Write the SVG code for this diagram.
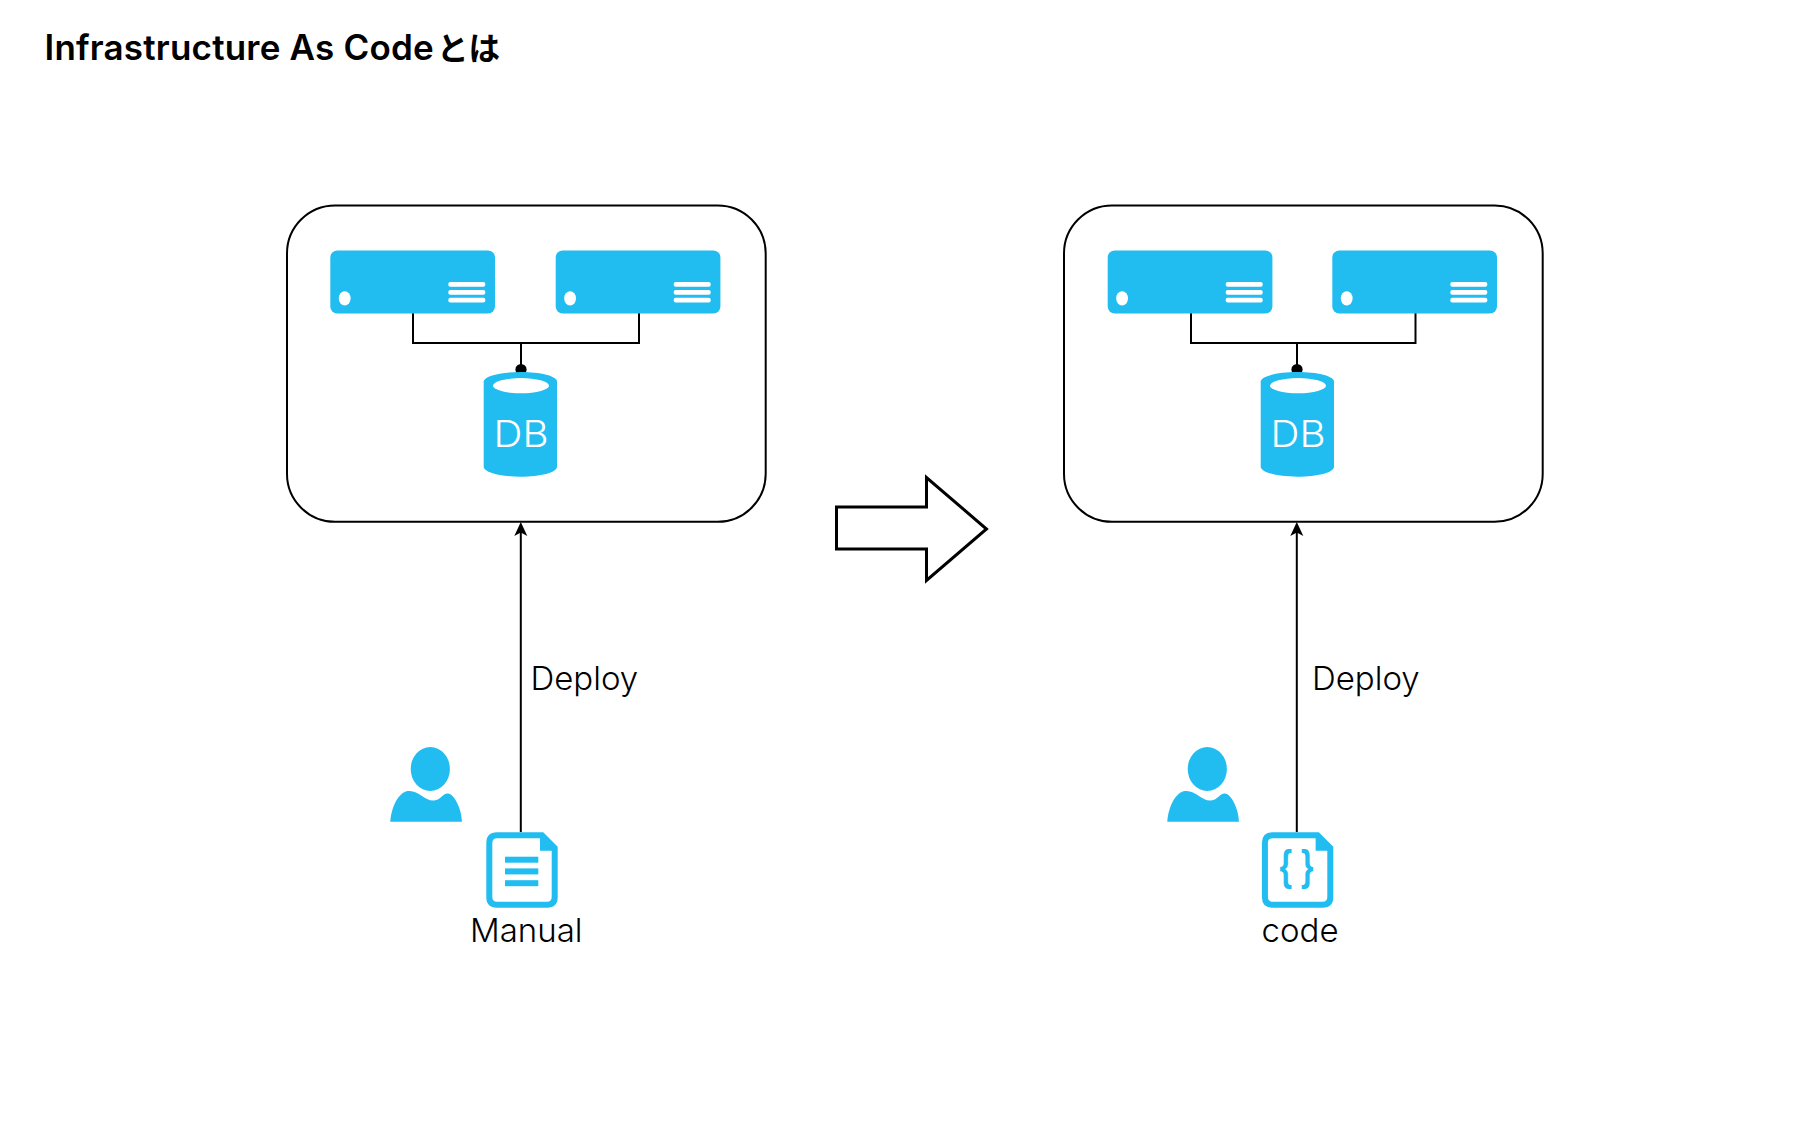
<svg xmlns="http://www.w3.org/2000/svg" width="1796" height="1122" viewBox="0 0 1796 1122">
<style>
.c{fill:#21bdf1}
.w{fill:#fff}
.line{fill:none;stroke:#000;stroke-width:2}
.t{font-family:Inter,"Noto Sans CJK JP",sans-serif;font-weight:300;font-size:33px;fill:#000}
.db{font-family:Inter,"Liberation Sans",sans-serif;font-weight:300;font-size:37px;fill:#fff}
</style>
<defs>
<marker id="arrow" markerUnits="userSpaceOnUse" markerWidth="15" markerHeight="15" refX="8" refY="7" orient="auto"><path d="M14 7L0 .5 3.5 7 0 13.5z" fill="#000"/></marker>
<marker id="oval" markerUnits="userSpaceOnUse" markerWidth="14" markerHeight="14" refX="7" refY="7" orient="auto"><circle cx="7" cy="7" r="5.6" fill="#000"/></marker>
<g id="server"><rect class="c" x="330.3" y="250.5" width="164.7" height="63" rx="7"/><ellipse class="w" cx="344.7" cy="298.4" rx="5.9" ry="7.2"/><rect class="w" x="448.3" y="282" width="37" height="4.7" rx="2"/><rect class="w" x="448.3" y="290" width="37" height="4.7" rx="2"/><rect class="w" x="448.3" y="297.8" width="37" height="4.7" rx="2"/></g>
<g id="person"><ellipse class="c" cx="430.3" cy="769" rx="19.6" ry="22"/><path class="c" d="M390.3 821.7C391.5 806 399 792 408 791C419 790 424 801 434 800.5C441 800 443 793 448 793.5C454 794 461.5 808 462 821.7z"/></g>
<path id="doc" d="M497 835.3H542L554.7 848V897Q554.7 904.7 547 904.7H497Q489.3 904.7 489.3 897V843Q489.3 835.3 497 835.3z" fill="#fff" stroke="#21bdf1" stroke-width="6"/>
<path id="fold" class="c" d="M540 834L557 850.7H540z"/>
</defs>
<g id="connectors">
<path class="line" d="M413 313V343H639V313"/>
<path class="line" d="M521 343V369.5" marker-end="url(#oval)"/>
<path class="line" d="M1191 313V343H1415.5V313"/>
<path class="line" d="M1297 343V369.5" marker-end="url(#oval)"/>
<path class="line" d="M520.8 832V528" marker-end="url(#arrow)"/>
<path class="line" d="M1296.8 832V528" marker-end="url(#arrow)"/>
</g>
<text id="title" x="44.5" y="60" font-family="Inter,'Noto Sans CJK JP',sans-serif" font-weight="600" font-size="35" fill="#000"><tspan letter-spacing="0.2">Infrastructure As Code</tspan><tspan x="437" font-size="31.5">とは</tspan></text>
<g id="left-group">
<rect x="287" y="205.5" width="478.7" height="316.3" rx="48" class="line"/>
</g>
<g id="right-group">
<rect x="1064" y="205.5" width="478.7" height="316.3" rx="48" class="line"/>
</g>
<use id="server-l1" href="#server"/>
<use id="server-l2" href="#server" x="225.4"/>
<use id="server-r1" href="#server" x="777.4"/>
<use id="server-r2" href="#server" x="1002"/>
<g id="db-left">
<path class="c" d="M483.7 381.6C483.7 376 501 372 520.5 372S557 376 557 381.6V466.7C557 472.5 540 476.7 520.5 476.7S483.7 472.5 483.7 466.7z"/>
<ellipse class="w" cx="521" cy="385.7" rx="28" ry="7.6"/>
<text class="db" x="493.5" y="447.2" textLength="55" lengthAdjust="spacingAndGlyphs">DB</text>
</g>
<g id="db-right" transform="translate(777 0)">
<path class="c" d="M483.7 381.6C483.7 376 501 372 520.5 372S557 376 557 381.6V466.7C557 472.5 540 476.7 520.5 476.7S483.7 472.5 483.7 466.7z"/>
<ellipse class="w" cx="521" cy="385.7" rx="28" ry="7.6"/>
<text class="db" x="493.5" y="447.2" textLength="55" lengthAdjust="spacingAndGlyphs">DB</text>
</g>
<g id="block-arrow"><path d="M836.5 507H926.5V477.5L986.5 529 926.5 580.5V549H836.5z" fill="#fff" stroke="#000" stroke-width="3"/></g>
<use id="person-left" href="#person"/>
<use id="person-right" href="#person" x="777"/>
<g id="manual-doc">
<use href="#doc"/><use href="#fold"/>
<rect class="c" x="505" y="856.7" width="33.3" height="6"/><rect class="c" x="505" y="868.4" width="33.3" height="6"/><rect class="c" x="505" y="880.2" width="33.3" height="6"/>
<text class="t" x="470" y="941.7">Manual</text>
</g>
<g id="code-doc">
<use href="#doc" x="775.6"/><use href="#fold" x="775.6"/>
<text x="1279.5" y="880" font-family="'Liberation Sans',sans-serif" font-weight="700" font-size="42" fill="#21bdf1" textLength="34" lengthAdjust="spacingAndGlyphs">{ }</text>
<text class="t" x="1261.5" y="941.7">code</text>
</g>
<text id="deploy-left" class="t" x="530.5" y="690">Deploy</text>
<text id="deploy-right" class="t" x="1312" y="690">Deploy</text>
</svg>
